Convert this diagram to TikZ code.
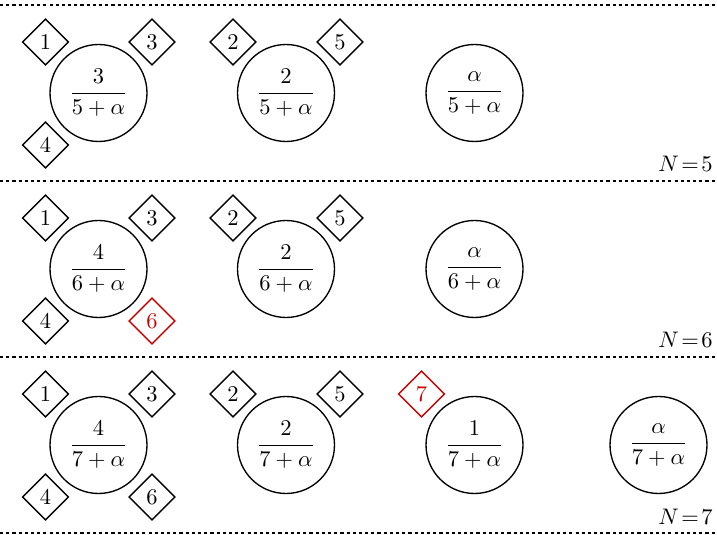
\documentclass[tikz,border=0pt]{standalone}
\usepackage{amsmath}
\usetikzlibrary{shapes.geometric}
\definecolor{myred}{RGB}{204,0,0}
\tikzset{
  bubble/.style={circle,draw,line width=0.6pt,minimum size=43.1pt,inner sep=0pt},
  tag/.style={diamond,draw,line width=0.6pt,minimum size=20.6pt,inner sep=0pt},
  newtag/.style={tag,draw=myred,text=myred},
  sep/.style={line width=0.6pt,dash pattern=on 1.4pt off 1.35pt},
  nlabel/.style={anchor=base east,inner sep=0pt}
}
\begin{document}
\begin{tikzpicture}[x=0.4444pt,y=-0.4444pt]
\useasboundingbox (0,0) rectangle (717,535);
% separators
\coordinate (l0a) at (0,5);   \coordinate (l0b) at (717,5);
\coordinate (l1a) at (0,181); \coordinate (l1b) at (717,181);
\coordinate (l2a) at (0,357); \coordinate (l2b) at (717,357);
\coordinate (l3a) at (0,533); \coordinate (l3b) at (717,533);
\draw[sep] (l0a) -- (l0b);
\draw[sep] (l1a) -- (l1b);
\draw[sep] (l2a) -- (l2b);
\draw[sep] (l3a) -- (l3b);
% row 1
\node[bubble] (a1) at (98.5,93) {$\dfrac{3}{5+\alpha}$};
\node[bubble] (b1) at (286,93) {$\dfrac{2}{5+\alpha}$};
\node[bubble] (c1) at (474.5,93) {$\dfrac{\alpha}{5+\alpha}$};
\node[tag] (t11) at (45.5,42) {1};
\node[tag] (t13) at (152,42) {3};
\node[tag] (t14) at (45.5,145) {4};
\node[tag] (t12) at (233,42) {2};
\node[tag] (t15) at (340,42) {5};
\node[nlabel] (n1) at (713,172) {$N\!=\!5$};
% row 2
\node[bubble] (a2) at (98.5,269) {$\dfrac{4}{6+\alpha}$};
\node[bubble] (b2) at (286,269) {$\dfrac{2}{6+\alpha}$};
\node[bubble] (c2) at (474.5,269) {$\dfrac{\alpha}{6+\alpha}$};
\node[tag] (t21) at (45.5,218) {1};
\node[tag] (t23) at (152,218) {3};
\node[tag] (t24) at (45.5,321) {4};
\node[newtag] (t26) at (152,321) {6};
\node[tag] (t22) at (233,218) {2};
\node[tag] (t25) at (340,218) {5};
\node[nlabel] (n2) at (713,348) {$N\!=\!6$};
% row 3
\node[bubble] (a3) at (98.5,445) {$\dfrac{4}{7+\alpha}$};
\node[bubble] (b3) at (286,445) {$\dfrac{2}{7+\alpha}$};
\node[bubble] (c3) at (474.5,445) {$\dfrac{1}{7+\alpha}$};
\node[bubble] (d3) at (658.5,445) {$\dfrac{\alpha}{7+\alpha}$};
\node[tag] (t31) at (45.5,394) {1};
\node[tag] (t33) at (152,394) {3};
\node[tag] (t34) at (45.5,497) {4};
\node[tag] (t36) at (152,497) {6};
\node[tag] (t32) at (233,394) {2};
\node[tag] (t35) at (340,394) {5};
\node[newtag] (t37) at (421.5,394) {7};
\node[nlabel] (n3) at (713,524) {$N\!=\!7$};
\end{tikzpicture}
\end{document}
